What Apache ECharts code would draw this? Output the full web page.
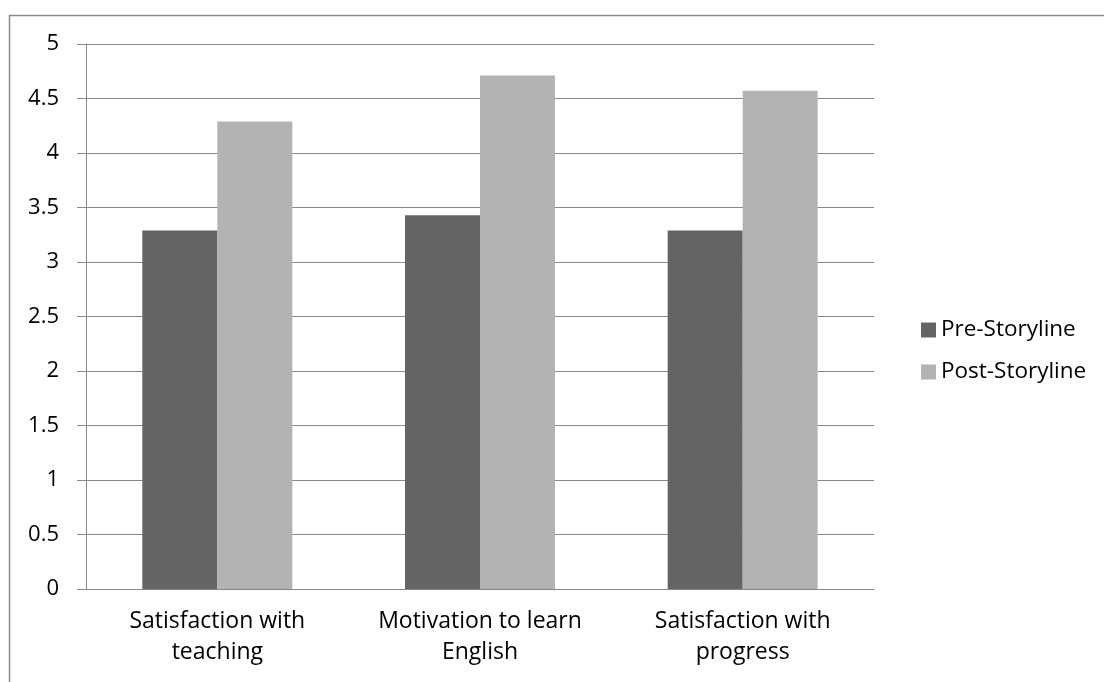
<!DOCTYPE html>
<html>
<head>
<meta charset="utf-8">
<script src="https://cdn.jsdelivr.net/npm/echarts@6/dist/echarts.min.js"></script>
<style>
  html, body { margin: 0; padding: 0; background: #fff; }
  #main { width: 1104px; height: 682px; }
</style>
</head>
<body>
<div id="main"></div>
<script>
const categories = ['Satisfaction with\nteaching', 'Motivation to learn\nEnglish', 'Satisfaction with\nprogress']
const preValues = [3.29, 3.43, 3.29]
const postValues = [4.29, 4.71, 4.57]
const seriesNames = ['Pre-Storyline', 'Post-Storyline']

const fontFamily = '"Open Sans", sans-serif'
const gridColor = '#888888'

const chart = echarts.init(document.getElementById('main'))
chart.setOption({
  animation: false,
  color: ['#646464', '#b3b3b3'],
  textStyle: { fontFamily: fontFamily },
  graphic: [{
    type: 'rect',
    shape: { x: 9.5, y: 15.5, width: 1200, height: 800 },
    style: { fill: 'none', stroke: '#8c8c8c', lineWidth: 1.5 },
    silent: true
  }],
  grid: { left: 86, right: 230, top: 44, bottom: 93 },
  legend: {
    orient: 'vertical',
    left: 916,
    top: 313,
    itemWidth: 15,
    itemHeight: 15,
    itemGap: 18,
    icon: 'rect',
    data: seriesNames,
    textStyle: { fontSize: 22.5, lineHeight: 24, color: '#000', fontFamily: fontFamily }
  },
  xAxis: {
    type: 'category',
    data: categories,
    axisLine: { lineStyle: { color: gridColor, width: 1 } },
    axisTick: { length: 8, lineStyle: { color: gridColor } },
    axisLabel: { fontSize: 23, color: '#000', margin: 17, lineHeight: 31, interval: 0 }
  },
  yAxis: {
    type: 'value',
    min: 0,
    max: 5,
    interval: 0.5,
    axisLine: { show: true, lineStyle: { color: gridColor, width: 1 } },
    axisTick: { show: true, length: 9, lineStyle: { color: gridColor } },
    splitLine: { lineStyle: { color: gridColor, width: 1 } },
    axisLabel: { fontSize: 22, color: '#000', margin: 27 }
  },
  series: [{
    name: seriesNames[0],
    type: 'bar',
    data: preValues,
    barWidth: 75,
    barGap: '0%'
  }, {
    name: seriesNames[1],
    type: 'bar',
    data: postValues,
    barWidth: 75,
    barGap: '0%'
  }]
})
</script>
</body>
</html>
